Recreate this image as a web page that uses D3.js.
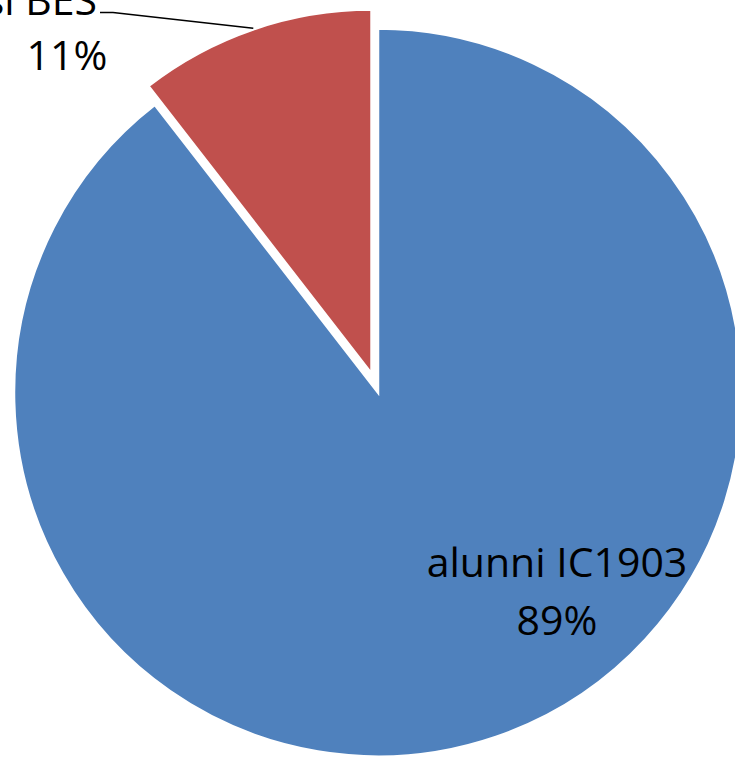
<!DOCTYPE html>
<html>
<head>
<meta charset="utf-8">
<script src="https://cdn.jsdelivr.net/npm/d3@7"></script>
<style>
  html, body { margin: 0; padding: 0; background: #fff; overflow: hidden; }
  svg { display: block; }
</style>
</head>
<body>
<svg id="chart" width="735" height="757"></svg>
<script>
// ---- data ----
const categories = ["alunni IC1903", "casi BES"];
const values = [89.5, 10.5];
const percentLabels = ["89%", "11%"];
const colors = ["#4F81BD", "#C0504D"];

// ---- layout ----
const W = 735, H = 757;
const cx = 378, cy = 392.5, R = 364;
const explode = [0, 20];

const svg = d3.select("#chart");
const g = svg.append("g").attr("transform", `translate(${cx},${cy})`);

const pie = d3.pie().sort(null).value(d => d.value).startAngle(0).endAngle(2 * Math.PI);
const arcs = pie(categories.map((c, i) => ({ name: c, value: values[i], i })));
const arc = d3.arc().innerRadius(0).outerRadius(R);

function offset(d) {
  const mid = (d.startAngle + d.endAngle) / 2;
  const e = explode[d.data.i];
  return [Math.sin(mid) * e, -Math.cos(mid) * e];
}

g.selectAll("path.slice")
  .data(arcs)
  .join("path")
  .attr("class", "slice")
  .attr("d", arc)
  .attr("transform", d => `translate(${offset(d)})`)
  .attr("fill", d => colors[d.data.i])
  .attr("stroke", "#fff")
  .attr("stroke-width", 2.5)
  .attr("stroke-linejoin", "miter");

// leader line for the small slice
const red = arcs[1];
const redMid = (red.startAngle + red.endAngle) / 2;
const [ox, oy] = offset(red);
const endPt = [cx + ox + Math.sin(redMid) * (R + 1), cy + oy - Math.cos(redMid) * (R + 1)];
const labelAnchor = [100, 12.5];
svg.append("path")
  .attr("d", d3.line()([labelAnchor, [113, 12.5], endPt]))
  .attr("fill", "none")
  .attr("stroke", "#000")
  .attr("stroke-width", 1.5);

// labels
const font = "'Open Sans', 'Noto Sans', sans-serif";
const fs = 41;

const lbl2 = svg.append("g").attr("font-family", font).attr("font-size", fs).attr("fill", "#000");
lbl2.append("text").attr("x", 97).attr("y", 15).attr("text-anchor", "end").text(categories[1]);
lbl2.append("text").attr("x", 67).attr("y", 70).attr("text-anchor", "middle").text(percentLabels[1]);

const lbl1 = svg.append("g").attr("font-family", font).attr("font-size", fs).attr("fill", "#000");
lbl1.append("text").attr("x", 557).attr("y", 577).attr("text-anchor", "middle").text(categories[0]);
lbl1.append("text").attr("x", 557).attr("y", 635).attr("text-anchor", "middle").text(percentLabels[0]);
</script>
</body>
</html>
